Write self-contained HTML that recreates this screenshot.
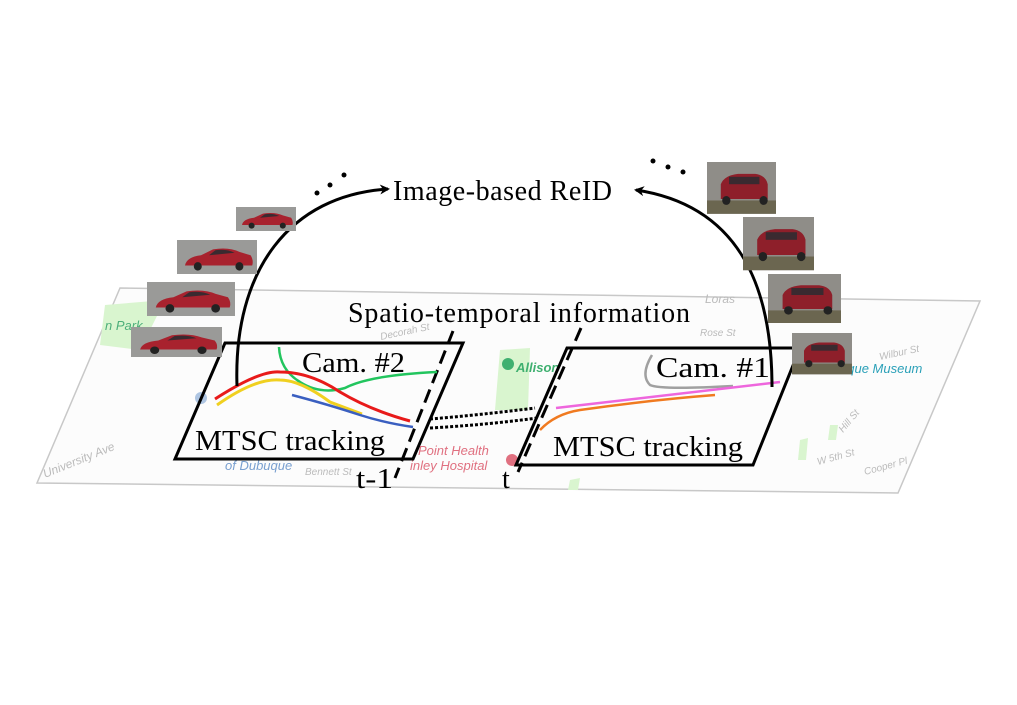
<!DOCTYPE html>
<html><head><meta charset="utf-8"><style>
html,body{margin:0;padding:0;background:#fff;width:1017px;height:705px;overflow:hidden}
svg{display:block}
.t{font-family:"Liberation Serif",serif;fill:#000}
.m{font-family:"Liberation Sans",sans-serif;font-style:italic;fill:#bbb;font-size:10px}
</style></head><body>
<svg width="1017" height="705" viewBox="0 0 1017 705">
<defs>
<marker id="ah" markerWidth="10" markerHeight="10" refX="8" refY="5" orient="auto" markerUnits="userSpaceOnUse"><path d="M0,0 L10,5 L0,10 L3,5 Z" fill="#000"/></marker>
<g id="car">
<rect x="0" y="0" width="100" height="40" fill="#9a9a98"/>
<path d="M10,30 Q12,20 30,18 L45,11 Q65,8 78,14 L92,18 Q96,24 94,30 Z" fill="#a8222e"/>
<path d="M40,18 L48,12 Q62,10 72,15 Z" fill="#3a2a30"/>
<circle cx="26" cy="31" r="5" fill="#222"/><circle cx="78" cy="31" r="5" fill="#222"/>
</g>
<g id="carr">
<rect x="0" y="0" width="100" height="70" fill="#8f8d88"/>
<rect x="0" y="52" width="100" height="18" fill="#6b6650"/>
<path d="M20,50 L20,30 Q25,18 45,16 L70,16 Q85,18 88,30 L88,50 Z" fill="#8e1f2a"/>
<rect x="32" y="20" width="44" height="10" fill="#3a2a30"/>
<circle cx="28" cy="52" r="6" fill="#222"/><circle cx="82" cy="52" r="6" fill="#222"/>
</g>
</defs>

<!-- map plane -->
<polygon points="120,288 980,301 898,493 37,483" fill="#fcfcfc" stroke="#c8c8c8" stroke-width="1.5"/>
<path d="M105,305 L165,300 L140,350 L100,345 Z" fill="#d9f5cf"/>
<path d="M500,350 L530,348 L528,410 L495,410 Z" fill="#d9f5cf"/>
<path d="M800,440 L808,438 L806,460 L798,460 Z" fill="#d9f5cf"/>
<path d="M830,425 L838,425 L836,440 L828,440 Z" fill="#d9f5cf"/>
<path d="M570,480 L580,478 L578,490 L568,490 Z" fill="#d9f5cf"/>
<text class="m" x="105" y="330" style="fill:#4caf7a;font-size:13px">n Park</text>
<text class="m" x="516" y="372" style="fill:#3fb070;font-size:13px;font-weight:bold">Allison</text>
<text class="m" x="840" y="373" style="fill:#2aa0b8;font-size:13px">uque Museum</text>
<text class="m" x="418" y="455" style="fill:#e07080;font-size:13px">Point Health</text>
<text class="m" x="410" y="470" style="fill:#e07080;font-size:13px">inley Hospital</text>
<text class="m" x="225" y="470" style="fill:#7aa0d0;font-size:13px">of Dubuque</text>
<text class="m" x="45" y="478" transform="rotate(-22 45 478)" style="font-size:12px">University Ave</text>
<text class="m" x="305" y="475">Bennett St</text>
<text class="m" x="700" y="336">Rose St</text>
<text class="m" x="880" y="360" transform="rotate(-12 880 360)">Wilbur St</text>
<text class="m" x="818" y="465" transform="rotate(-15 818 465)">W 5th St</text>
<text class="m" x="865" y="475" transform="rotate(-15 865 475)">Cooper Pl</text>
<text class="m" x="843" y="433" transform="rotate(-50 843 433)">Hill St</text>
<text class="m" x="705" y="303" style="font-size:12px">Loras</text>
<text class="m" x="381" y="340" transform="rotate(-12 381 340)">Decorah St</text>
<circle cx="201" cy="398" r="6" fill="#7aa0d0" opacity=".6"/>
<circle cx="508" cy="364" r="6" fill="#3fb070"/>
<circle cx="512" cy="460" r="6" fill="#e07080"/>

<!-- panels -->
<polygon points="225,343 463,343 413,459 175,459" fill="none" stroke="#000" stroke-width="3"/>
<line x1="453" y1="331" x2="395" y2="478" stroke="#000" stroke-width="3" stroke-dasharray="14,7"/>
<polygon points="567,348 800,348 753,465 516,465" fill="none" stroke="#000" stroke-width="3"/>
<line x1="581" y1="328" x2="518" y2="472" stroke="#000" stroke-width="3" stroke-dasharray="14,7"/>

<!-- trajectories left -->
<path d="M279,347 Q280,370 300,382 Q320,395 345,388 Q370,375 437,372" fill="none" stroke="#22c55e" stroke-width="2.5"/>
<path d="M215,399 Q260,370 280,372 Q310,372 340,392 Q370,410 410,421" fill="none" stroke="#e81a1a" stroke-width="3"/>
<path d="M217,405 Q255,378 280,380 Q300,380 330,402 L362,414" fill="none" stroke="#f0d020" stroke-width="3"/>
<path d="M292,395 Q330,405 360,415 Q385,423 413,427" fill="none" stroke="#3a5fc0" stroke-width="2.5"/>
<!-- trajectories right -->
<path d="M652,355 Q640,375 650,385 Q660,390 733,386" fill="none" stroke="#a0a0a0" stroke-width="2.5"/>
<path d="M556,408 L780,382" fill="none" stroke="#ee66dd" stroke-width="2.5"/>
<path d="M540,430 Q555,414 580,410 Q650,400 715,395" fill="none" stroke="#f07a20" stroke-width="2.5"/>

<!-- dotted link -->
<path d="M430,419 Q480,415 535,408" fill="none" stroke="#000" stroke-width="3" stroke-dasharray="3,2"/>
<path d="M430,428 Q485,425 537,418" fill="none" stroke="#000" stroke-width="3" stroke-dasharray="3,2"/>

<!-- arcs -->
<path d="M237,386 C233,270 290,195 388,189" fill="none" stroke="#000" stroke-width="3" marker-end="url(#ah)"/>
<path d="M772,387 C772,280 735,205 636,190" fill="none" stroke="#000" stroke-width="3" marker-end="url(#ah)"/>
<circle cx="317" cy="193" r="2.5"/><circle cx="330" cy="185" r="2.5"/><circle cx="344" cy="175" r="2.5"/>
<circle cx="653" cy="161" r="2.5"/><circle cx="668" cy="167" r="2.5"/><circle cx="683" cy="172" r="2.5"/>

<!-- car images left -->
<use href="#car" transform="translate(236,207) scale(0.6,0.6)"/>
<use href="#car" transform="translate(177,240) scale(0.8,0.85)"/>
<use href="#car" transform="translate(147,282) scale(0.88,0.85)"/>
<use href="#car" transform="translate(131,327) scale(0.91,0.75)"/>
<!-- car images right -->
<use href="#carr" transform="translate(707,162) scale(0.69,0.74)"/>
<use href="#carr" transform="translate(743,217) scale(0.71,0.76)"/>
<use href="#carr" transform="translate(768,274) scale(0.73,0.7)"/>
<use href="#carr" transform="translate(792,333) scale(0.6,0.59)"/>

<!-- text -->
<text class="t" x="393" y="200" font-size="28" textLength="219" lengthAdjust="spacing">Image-based ReID</text>
<text class="t" x="348" y="322" font-size="28" textLength="342" lengthAdjust="spacing">Spatio-temporal information</text>
<text class="t" x="302" y="372" font-size="28" textLength="103" lengthAdjust="spacingAndGlyphs">Cam. #2</text>
<text class="t" x="195" y="450" font-size="28" textLength="190" lengthAdjust="spacingAndGlyphs">MTSC tracking</text>
<text class="t" x="656" y="377" font-size="28" textLength="114" lengthAdjust="spacingAndGlyphs">Cam. #1</text>
<text class="t" x="553" y="456" font-size="28" textLength="190" lengthAdjust="spacingAndGlyphs">MTSC tracking</text>
<text class="t" x="356" y="488" font-size="28" textLength="37" lengthAdjust="spacingAndGlyphs">t-1</text>
<text class="t" x="502" y="488" font-size="28">t</text>
</svg>
</body></html>
